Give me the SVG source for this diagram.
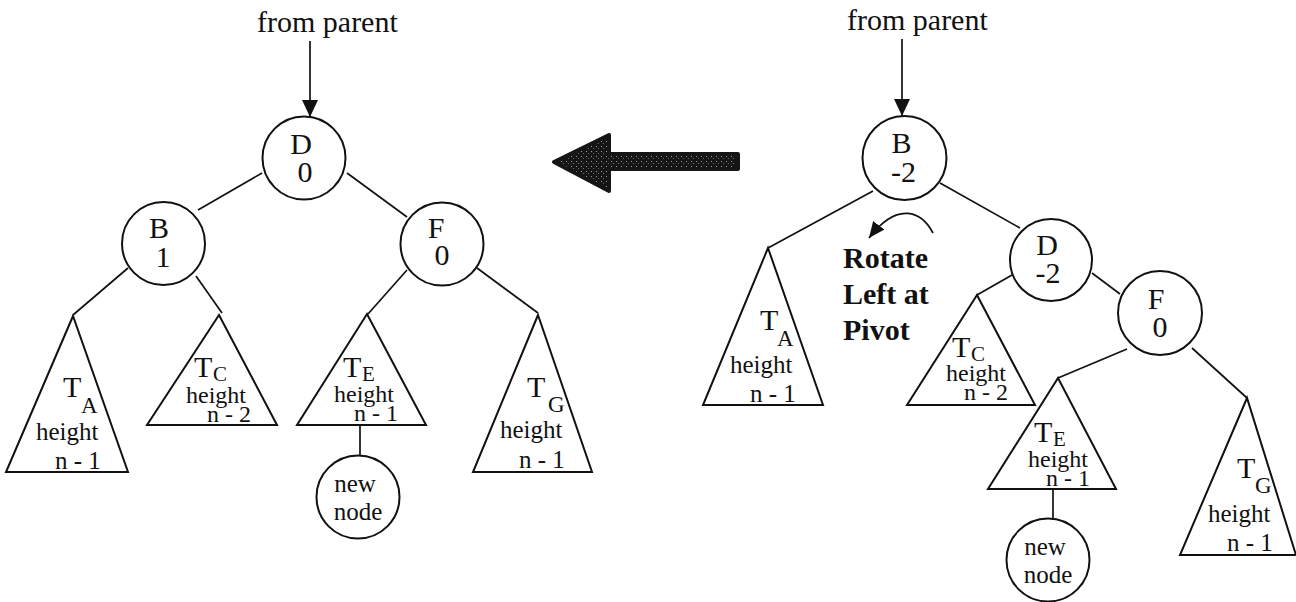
<svg xmlns="http://www.w3.org/2000/svg" width="1296" height="602" viewBox="0 0 1296 602">
  <style>
    text { font-family: "Liberation Serif", Tinos, "Times New Roman", "DejaVu Serif", serif; fill: #111; }
    .lbl { font-size: 30px; text-anchor: middle; }
    .cap { font-size: 30px; }
    .sub { font-size: 23px; }
    .subs { font-size: 21px; }
    .h { font-size: 25px; }
    .hs { font-size: 24px; }
    .note { font-size: 30px; font-weight: bold; }
    .node circle { fill: #fff; stroke: #111; stroke-width: 2; }
    .tri { fill: #fff; stroke: #111; stroke-width: 2; stroke-linejoin: miter; }
    .edge { fill: none; stroke: #111; stroke-width: 1.7; }
  </style>
  <defs>
    <marker id="head" viewBox="0 0 17 16" refX="17" refY="8" markerWidth="17" markerHeight="16" markerUnits="userSpaceOnUse" orient="auto">
      <path d="M0,0 L17,8 L0,16 z" fill="#111"/>
    </marker>
    <marker id="headSmall" viewBox="0 0 16 14" refX="16" refY="7" markerWidth="16" markerHeight="14" markerUnits="userSpaceOnUse" orient="auto">
      <path d="M0,0 L16,7 L0,14 z" fill="#111"/>
    </marker>
    <pattern id="stipple" width="5" height="5" patternUnits="userSpaceOnUse">
      <rect width="5" height="5" fill="#151515"/>
      <rect x="1" y="1" width="1" height="1" fill="#9a9a9a"/>
      <rect x="3" y="3" width="1" height="1" fill="#6a6a6a"/>
    </pattern>
  </defs>

  <rect width="1296" height="602" fill="#fff"/>

  <!-- edges and arrows -->
  <g id="connectors">
    <!-- left tree -->
    <line class="edge" x1="310" y1="41" x2="310" y2="117" marker-end="url(#head)"/>
    <line class="edge" x1="262" y1="173" x2="198" y2="210"/>
    <line class="edge" x1="347" y1="173" x2="407" y2="217"/>
    <line class="edge" x1="128" y1="268" x2="73" y2="315"/>
    <line class="edge" x1="196" y1="276" x2="222" y2="313"/>
    <line class="edge" x1="407" y1="270" x2="368" y2="314"/>
    <line class="edge" x1="477" y1="268" x2="538" y2="313"/>
    <line class="edge" x1="360" y1="425" x2="360" y2="456"/>
    <!-- right tree -->
    <line class="edge" x1="902" y1="39" x2="902" y2="116" marker-end="url(#head)"/>
    <line class="edge" x1="873" y1="191" x2="768" y2="248"/>
    <line class="edge" x1="940" y1="183" x2="1020" y2="228"/>
    <line class="edge" x1="1012" y1="275" x2="977" y2="295"/>
    <line class="edge" x1="1092" y1="273" x2="1120" y2="294"/>
    <line class="edge" x1="1127" y1="349" x2="1058" y2="378"/>
    <line class="edge" x1="1192" y1="348" x2="1247" y2="398"/>
    <line class="edge" x1="1053" y1="489" x2="1053" y2="518"/>
    <!-- rotation hint -->
    <path class="edge" d="M933,233 C922,212 898,200 869,238" marker-end="url(#headSmall)"/>
    <!-- transformation arrow -->
    <path d="M554,162 L609,135 L609,154 L738,154 L738,169 L609,169 L609,191 Z" fill="url(#stipple)" stroke="#151515" stroke-width="4" stroke-linejoin="round" stroke-linecap="round"/>
  </g>

  <!-- left tree: after rotation -->
  <text class="cap" x="257" y="32">from parent</text>

  <g id="L-D" class="node">
    <circle cx="304" cy="158" r="41.5"/>
    <text class="lbl" x="301" y="154">D</text>
    <text class="lbl" x="305" y="182">0</text>
  </g>
  <g id="L-B" class="node">
    <circle cx="163.5" cy="243.5" r="41.5"/>
    <text class="lbl" x="159" y="238">B</text>
    <text class="lbl" x="163" y="267">1</text>
  </g>
  <g id="L-F" class="node">
    <circle cx="442" cy="244" r="41.5"/>
    <text class="lbl" x="436" y="238">F</text>
    <text class="lbl" x="442" y="265">0</text>
  </g>
  <g id="L-TA">
    <polygon class="tri" points="73,316 6,472 128,472"/>
    <text class="cap" x="63" y="397">T</text>
    <text class="sub" x="81" y="413">A</text>
    <text class="h" x="36" y="440">height</text>
    <text class="h" x="55" y="469">n - 1</text>
  </g>
  <g id="L-TC">
    <polygon class="tri" points="219,315 147,425 277,425"/>
    <text class="cap" x="194" y="377">T</text>
    <text class="subs" x="213" y="381">C</text>
    <text class="hs" x="186" y="403">height</text>
    <text class="hs" x="207" y="422">n - 2</text>
  </g>
  <g id="L-TE">
    <polygon class="tri" points="367,314 297,425 426,425"/>
    <text class="cap" x="343" y="377">T</text>
    <text class="subs" x="362" y="381">E</text>
    <text class="hs" x="334" y="402">height</text>
    <text class="hs" x="354" y="421">n - 1</text>
  </g>
  <g id="L-TG">
    <polygon class="tri" points="538,315 473,472 592,472"/>
    <text class="cap" x="527" y="397">T</text>
    <text class="sub" x="548" y="412">G</text>
    <text class="h" x="500" y="438">height</text>
    <text class="h" x="519" y="468">n - 1</text>
  </g>
  <g id="L-new" class="node">
    <circle cx="358" cy="497" r="41.5"/>
    <text class="h" x="355" y="492" text-anchor="middle">new</text>
    <text class="h" x="358" y="520" text-anchor="middle">node</text>
  </g>

  <!-- right tree: before rotation -->
  <text class="cap" x="847" y="30">from parent</text>

  <g id="R-B" class="node">
    <circle cx="904.5" cy="158" r="42"/>
    <text class="lbl" x="901.5" y="153">B</text>
    <text class="lbl" x="903.5" y="182">-2</text>
  </g>
  <g id="R-D" class="node">
    <circle cx="1051" cy="260" r="41"/>
    <text class="lbl" x="1047" y="255">D</text>
    <text class="lbl" x="1048" y="283">-2</text>
  </g>
  <g id="R-F" class="node">
    <circle cx="1160" cy="313" r="42"/>
    <text class="lbl" x="1156" y="309">F</text>
    <text class="lbl" x="1160" y="337">0</text>
  </g>
  <g id="R-note">
    <text class="note" x="843" y="268">Rotate</text>
    <text class="note" x="843" y="304">Left at</text>
    <text class="note" x="843" y="340">Pivot</text>
  </g>
  <g id="R-TA">
    <polygon class="tri" points="768,248 703,405 823,405"/>
    <text class="cap" x="760" y="330">T</text>
    <text class="sub" x="777" y="346">A</text>
    <text class="h" x="730" y="373">height</text>
    <text class="h" x="750" y="402">n - 1</text>
  </g>
  <g id="R-TC">
    <polygon class="tri" points="977,295 907,405 1035,405"/>
    <text class="cap" x="952" y="357">T</text>
    <text class="subs" x="971" y="361">C</text>
    <text class="hs" x="946" y="381">height</text>
    <text class="hs" x="964" y="400">n - 2</text>
  </g>
  <g id="R-TE">
    <polygon class="tri" points="1058,378 988,489 1116,489"/>
    <text class="cap" x="1034" y="442">T</text>
    <text class="subs" x="1053" y="446">E</text>
    <text class="hs" x="1028" y="467">height</text>
    <text class="hs" x="1046" y="486">n - 1</text>
  </g>
  <g id="R-TG">
    <polygon class="tri" points="1247,398 1180,555 1296,555"/>
    <text class="cap" x="1237" y="478">T</text>
    <text class="sub" x="1255" y="493">G</text>
    <text class="h" x="1208" y="522">height</text>
    <text class="h" x="1227" y="551">n - 1</text>
  </g>
  <g id="R-new" class="node">
    <circle cx="1048" cy="560" r="41.5"/>
    <text class="h" x="1045" y="555" text-anchor="middle">new</text>
    <text class="h" x="1048" y="583" text-anchor="middle">node</text>
  </g>
</svg>
